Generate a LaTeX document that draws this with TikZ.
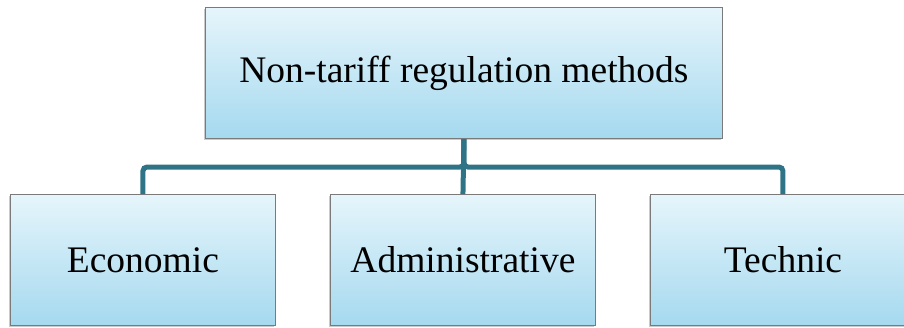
\documentclass[tikz,border=0pt]{standalone}
\usepackage{fontspec}
\setmainfont{Liberation Serif}
\usetikzlibrary{shadows,backgrounds}
\definecolor{boxtop}{HTML}{E6F5FB}
\definecolor{boxbot}{HTML}{A5D9EF}
\definecolor{boxline}{HTML}{7A7A7A}
\definecolor{connc}{HTML}{2F7486}
\tikzset{
  catbox/.style={draw=boxline, line width=0.9pt, top color=boxtop, bottom color=boxbot,
    minimum width=265pt, minimum height=131pt, inner sep=0pt, anchor=north west,
    font=\fontsize{37.5}{42}\selectfont,
    drop shadow={shadow xshift=-1.5pt, shadow yshift=-2pt, opacity=0.35, fill=black!60}},
  rootbox/.style={catbox, minimum width=517pt, minimum height=131pt},
  conn/.style={draw=connc, line width=5pt, rounded corners=4pt}
}
\begin{document}
\begin{tikzpicture}[x=1pt, y=-1pt]
\useasboundingbox (0,0) rectangle (904,327);
\path (205,7) node[rootbox] (root) {Non-tariff regulation methods};
\path (10,194) node[catbox] (econ) {Economic};
\path (330,194) node[catbox] (adm) {Administrative};
\path (650,194) node[catbox] (tech) {Technic};
% bus line that links the root to its three branches
\coordinate (bus) at (0,167);
\begin{scope}[on background layer]
\draw[conn] (root.south) -- (root.south |- bus) -| (econ.north);
\draw[conn] (root.south) -- (root.south |- bus) -| (tech.north);
\draw[conn] (root.south) -- (adm.north);
\end{scope}
\end{tikzpicture}
\end{document}
